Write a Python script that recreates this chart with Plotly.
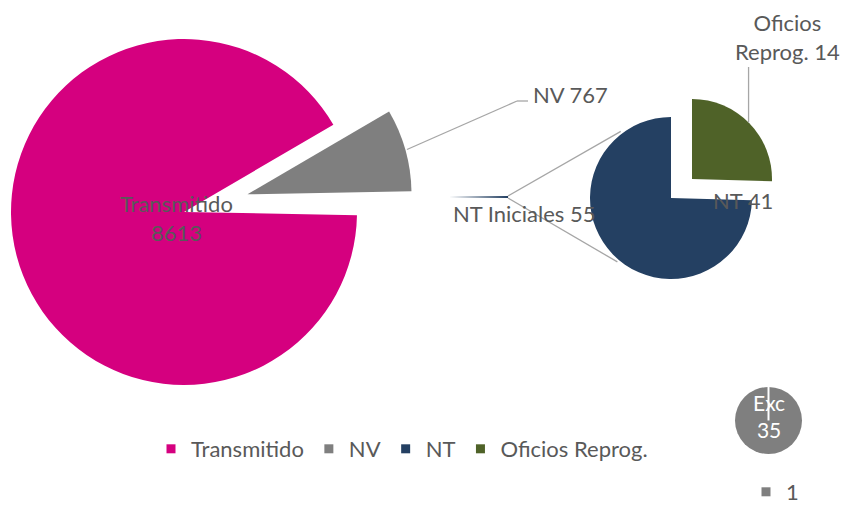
import math
import plotly.graph_objects as go

# ---------------- data ----------------
main_labels = ["Transmitido", "NV", "NT Iniciales"]
main_values = [8613, 767, 55]
sec_labels = ["NT", "Oficios Reprog."]
sec_values = [41, 14]
exc_labels = ["1"]
exc_values = [35]
exc_text = "Exc"
legend_labels = ["Transmitido", "NV", "NT", "Oficios Reprog."]

# ---------------- styles ----------------
COLORS = {
    "Transmitido": "#D5007F",
    "NV": "#7F7F7F",
    "NT Iniciales": "#244062",
    "NT": "#244062",
    "Oficios Reprog.": "#4F6228",
    "1": "#7F7F7F",
}
TXT = "#595959"
LINE = "#A6A6A6"
FONT = "Lato"
FS = 22
W, H = 842, 507

MAIN = (184, 212, 173)
NV_POS = (247.5, 194.3, 164)
SLIVER = (449, 197, 59)
SEC_NT = (671, 198, 81)
SEC_OF = (692, 179, 80)
EXC = (768.5, 420.5, 33.5)


def dom(c):
    cx, cy, r = c
    return dict(x=[(cx - r) / W, (cx + r) / W], y=[1 - (cy + r) / H, 1 - (cy - r) / H])


def px(x, y):
    return x / W, 1 - y / H


main_total = sum(main_values)
main_rot = 90 + 180 * main_values[2] / main_total
sec_rot = 360 * sec_values[1] / sum(sec_values)


def pie(labels, values, show, where, rot):
    cols = [COLORS[l] if l in show else "rgba(0,0,0,0)" for l in labels]
    return go.Pie(labels=labels, values=values, sort=False, direction="clockwise",
                  rotation=rot, domain=dom(where), textinfo="none", showlegend=False,
                  marker=dict(colors=cols, line=dict(width=0)), hoverinfo="label+value")


fig = go.Figure()
fig.add_trace(pie(main_labels, main_values, ["Transmitido"], MAIN, main_rot))
fig.add_trace(pie(main_labels, main_values, ["NV"], NV_POS, main_rot))
fig.add_trace(pie(main_labels, main_values, ["NT Iniciales"], SLIVER, main_rot))
fig.add_trace(pie(sec_labels, sec_values, ["NT"], SEC_NT, sec_rot))
fig.add_trace(pie(sec_labels, sec_values, ["Oficios Reprog."], SEC_OF, sec_rot))
fig.add_trace(pie(exc_labels, exc_values, ["1"], EXC, 0))

for lab in legend_labels:
    fig.add_trace(go.Scatter(x=[None], y=[None], mode="markers", name=lab,
                             marker=dict(symbol="square", size=9, color=COLORS[lab]),
                             legend="legend"))
fig.add_trace(go.Scatter(x=[None], y=[None], mode="markers", name=exc_labels[0],
                         marker=dict(symbol="square", size=9, color=COLORS["1"]),
                         legend="legend2"))


def pt_on(c, ang_deg, rfac=1.0):
    cx, cy, r = c
    a = math.radians(ang_deg)
    return cx + r * rfac * math.cos(a), cy - r * rfac * math.sin(a)


shapes = []


def seg(p0, p1, color=LINE, width=1.3):
    x0, y0 = px(*p0)
    x1, y1 = px(*p1)
    shapes.append(dict(type="line", xref="paper", yref="paper", x0=x0, y0=y0, x1=x1, y1=y1,
                       line=dict(color=color, width=width), layer="above"))


# NV leader line
nv_mid = 90 - (main_rot + 360 * (main_values[0] + main_values[1] / 2) / main_total)
nv_a = pt_on(NV_POS, nv_mid, 1.01)
seg(nv_a, (517, 101))
seg((517, 101), (528, 101))
# connectors from the "other" slice to the secondary pie
sl_end_up = pt_on(SLIVER, 1.0)
sl_end_dn = pt_on(SLIVER, -1.0)
seg(sl_end_up, pt_on(SEC_NT, 127, 1.03))
seg(sl_end_dn, pt_on(SEC_NT, -130, 1.03))
# Oficios leader line
of_a = pt_on(SEC_OF, 45, 1.0)
seg(of_a, (of_a[0], 67))
# white border of the single-slice pie
seg((EXC[0], EXC[1] - EXC[2]), (EXC[0], EXC[1]), color="white", width=2)

ann = []


def label(text, x, y, xanchor="left", color=TXT, size=FS):
    X, Y = px(x, y)
    ann.append(dict(text=text, x=X, y=Y, xref="paper", yref="paper", xanchor=xanchor,
                    yanchor="middle", showarrow=False, align="center",
                    font=dict(family=FONT, size=size, color=color)))


label(f"{main_labels[0]}<br>{main_values[0]}", 176.5, 218, "center")
label(f"{main_labels[1]} {main_values[1]}", 531, 94)
label(f"{main_labels[2]} {main_values[2]}", 451, 214)
label(f"{sec_labels[0]} {sec_values[0]}", 711, 200)
label(f"{sec_labels[1].split(' ')[0]}<br>{sec_labels[1].split(' ')[1]} {sec_values[1]}", 787, 37, "center")
label(f"{exc_text}<br>{exc_values[0]}", 769, 416, "center", color="white", size=21)

fig.update_layout(
    width=W, height=H, margin=dict(l=0, r=0, t=0, b=0, autoexpand=False),
    paper_bgcolor="white", plot_bgcolor="white",
    xaxis=dict(visible=False), yaxis=dict(visible=False),
    font=dict(family=FONT, size=FS, color=TXT),
    shapes=shapes, annotations=ann,
    legend=dict(orientation="h", x=151 / W, xanchor="left", y=1 - 449 / H, yanchor="middle",
                bgcolor="rgba(0,0,0,0)", font=dict(family=FONT, size=FS, color=TXT)),
    legend2=dict(orientation="h", x=746 / W, xanchor="left", y=1 - 492 / H, yanchor="middle",
                 bgcolor="rgba(0,0,0,0)", font=dict(family=FONT, size=FS, color=TXT)),
    showlegend=True,
)

fig.write_html("out.html", config={"displayModeBar": False},
               post_script="document.body.style.margin='0';document.body.style.overflow='hidden';")
